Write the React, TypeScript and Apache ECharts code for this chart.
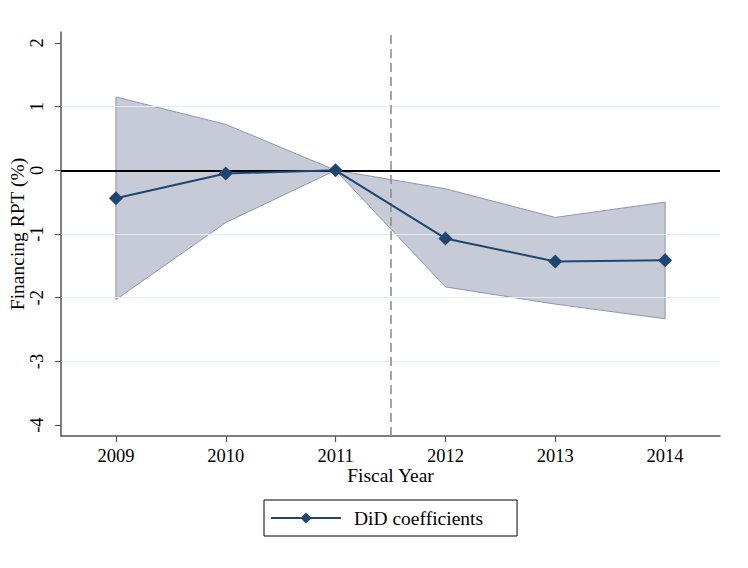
import React, { useEffect, useRef } from "react";
import * as echarts from "echarts";

const years = [2009, 2010, 2011, 2012, 2013, 2014];
const coefficients = [-0.44, -0.05, 0, -1.07, -1.43, -1.41];
const ciUpper = [1.15, 0.72, 0, -0.29, -0.74, -0.5];
const ciLower = [-2.03, -0.82, 0, -1.83, -2.1, -2.33];
const yTicks = [-4, -3, -2, -1, 0, 1, 2];
const gridLevels = [-3, -2, -1, 1];
const treatmentCut = 2011.5;
const seriesName = "DiD coefficients";

const FONT = "'Liberation Serif', 'Times New Roman', serif";

export default function App() {
  const ref = useRef<HTMLDivElement>(null);
  useEffect(() => {
    document.body.style.margin = "0";
    if (!ref.current) return;
    const chart = echarts.init(ref.current, undefined, { renderer: "svg" });
    const option: any = {
      animation: false,
      backgroundColor: "#ffffff",
      textStyle: { fontFamily: FONT },
      grid: {
        left: 61,
        right: 28,
        top: 32,
        bottom: 132,
        containLabel: false,
        outerBoundsMode: "none",
      },
      xAxis: {
        type: "value",
        min: 2008.5,
        max: 2014.5,
        name: "Fiscal Year",
        nameLocation: "middle",
        nameGap: 29,
        nameMoveOverlap: false,
        nameTextStyle: { fontSize: 19.5, fontFamily: FONT, color: "#000" },
        axisLine: { show: true, onZero: false, lineStyle: { color: "#555", width: 1.5 } },
        axisTick: { show: true, customValues: years, length: 6, lineStyle: { color: "#555", width: 1.2 } },
        axisLabel: {
          customValues: years,
          formatter: (v: number) => String(v),
          fontSize: 18.5,
          fontFamily: FONT,
          color: "#000",
          margin: 10,
        },
        splitLine: { show: false },
      },
      yAxis: {
        type: "value",
        min: -4.17,
        max: 2.17,
        name: "Financing RPT (%)",
        nameLocation: "middle",
        nameGap: 34,
        nameMoveOverlap: false,
        nameTextStyle: { fontSize: 19.5, fontFamily: FONT, color: "#000" },
        axisLine: { show: true, onZero: false, lineStyle: { color: "#555", width: 1.5 } },
        axisTick: { show: true, customValues: yTicks, length: 6, lineStyle: { color: "#555", width: 1.2 } },
        axisLabel: {
          customValues: yTicks,
          formatter: (v: number) => String(v),
          rotate: 90,
          fontSize: 18.5,
          fontFamily: FONT,
          color: "#000",
          margin: 15,
        },
        splitLine: { show: false },
      },
      legend: {
        data: [seriesName],
        left: 264,
        top: 500,
        orient: "horizontal",
        padding: [8, 34, 8, 6],
        borderColor: "#000",
        borderWidth: 1,
        borderRadius: 0,
        itemWidth: 70,
        itemHeight: 14,
        textStyle: { fontSize: 19.5, fontFamily: FONT, color: "#000", padding: [0, 0, 0, 8] },
      },
      series: [
        {
          type: "custom",
          name: "CI",
          z: 2,
          silent: true,
          data: years.map((y, i) => [y, ciLower[i], ciUpper[i]]),
          encode: { x: 0, y: [1, 2] },
          renderItem: (params: any, api: any) => {
            if (params.dataIndex !== 0) return null;
            const top = years.map((y, i) => api.coord([y, ciUpper[i]]));
            const bottom = years
              .map((y, i) => api.coord([y, ciLower[i]]))
              .reverse();
            return {
              type: "polygon",
              shape: { points: top.concat(bottom) },
              style: { fill: "#c6cbd7", stroke: "#8d96b0", lineWidth: 1 },
            };
          },
          markLine: {
            silent: true,
            symbol: "none",
            label: { show: false },
            animation: false,
            data: [
              ...gridLevels.map((g) => ({
                yAxis: g,
                lineStyle: { color: "#e3ecf0", width: 1, type: "solid" },
              })),
              { yAxis: 0, lineStyle: { color: "#000", width: 2, type: "solid" } },
              {
                xAxis: treatmentCut,
                lineStyle: { color: "#8f8f8f", width: 1.6, type: [9, 5] },
              },
            ],
          },
        },
        {
          type: "line",
          name: seriesName,
          z: 10,
          data: years.map((y, i) => [y, coefficients[i]]),
          symbol: "diamond",
          symbolSize: 14,
          showSymbol: true,
          lineStyle: { color: "#1f4670", width: 2 },
          itemStyle: { color: "#1f4670" },
        },
      ],
    };
    chart.setOption(option);
    return () => chart.dispose();
  }, []);
  return <div ref={ref} style={{ width: 748, height: 568 }} />;
}
